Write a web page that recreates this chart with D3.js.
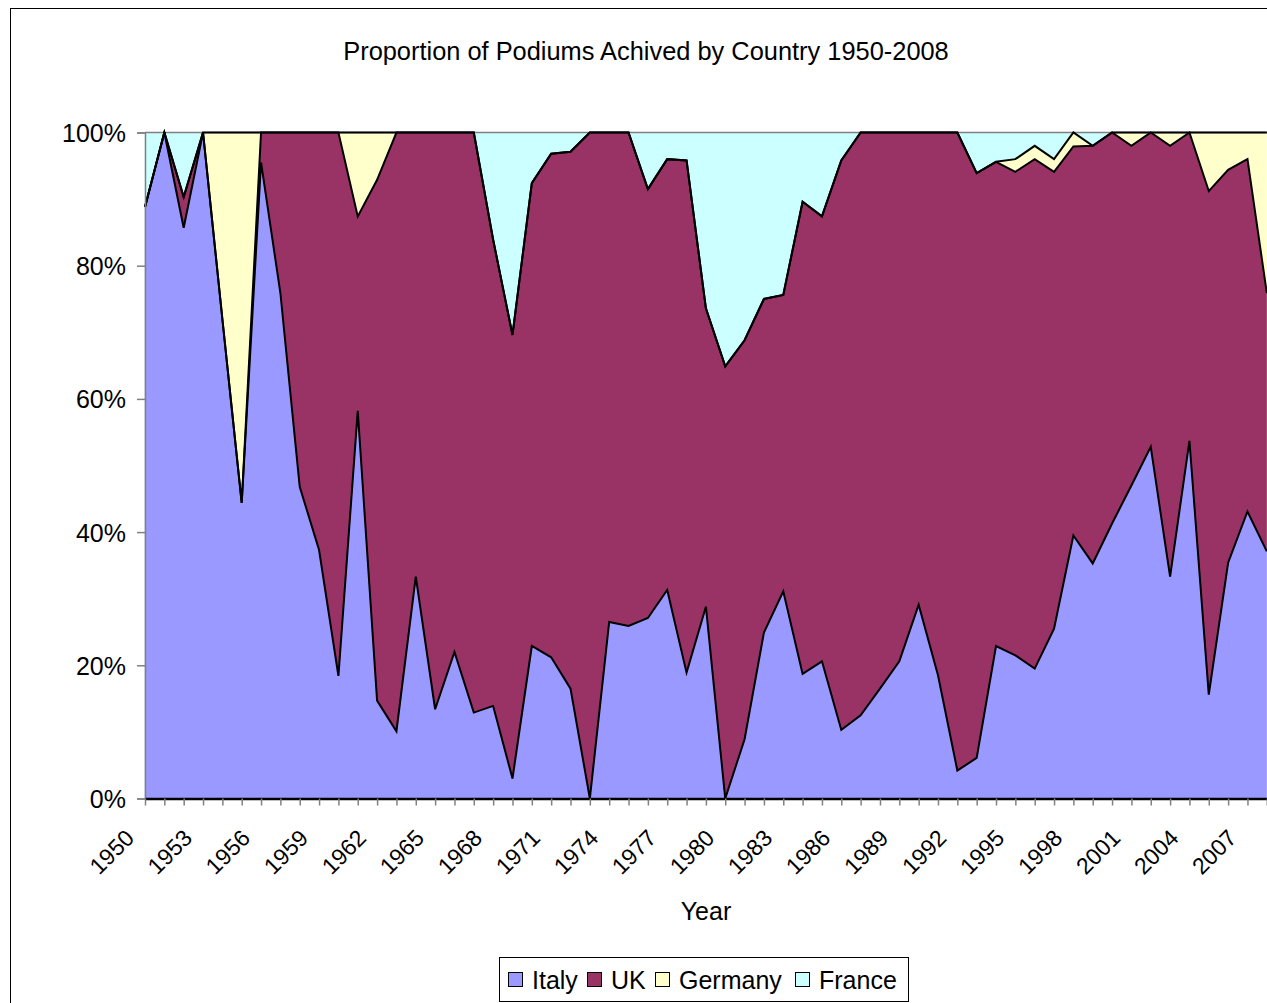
<!DOCTYPE html>
<html><head><meta charset="utf-8">
<script src="https://cdn.jsdelivr.net/npm/d3@7"></script>
<style>body{margin:0;background:#fff}svg{display:block}text{font-family:"Liberation Sans",Arial,sans-serif}</style>
</head><body>
<svg id="c" width="1267" height="1003"></svg>
<script>
const years = d3.range(1950, 2009);
const italy = [88.8,100,85.7,100,72,44.4,95.5,75.9,46.8,37.3,18.4,58.2,14.7,10.1,33.3,13.4,22.0,12.9,13.9,3.0,
  22.9,21.2,16.5,0,26.5,25.9,27.1,31.3,18.9,28.8,0,8.9,24.9,31.1,18.7,20.6,10.3,12.5,16.5,20.6,
  29.1,18.5,4.2,6.1,22.9,21.5,19.5,25.5,39.5,35.3,41.3,47.0,52.8,33.3,53.7,15.6,35.4,43.1,37.1];
const uk = [0,0,4.6,0,0,0,4.5,24.1,53.2,62.7,81.6,29.2,78.2,89.9,66.7,86.6,78.0,87.1,70.0,66.6,
  69.5,75.6,80.6,100,73.5,74.1,64.4,64.7,76.9,44.8,64.9,59.9,50.1,44.5,70.9,66.8,85.5,87.5,83.5,79.4,
  70.9,81.5,95.8,87.8,72.7,72.6,76.5,68.6,58.4,62.7,58.7,51.0,47.2,64.7,46.3,75.6,59.0,52.9,38.8];
const germany = [0,0,0,0,28,55.6,0,0,0,0,0,12.6,7.1,0,0,0,0,0,0,0,
  0,0,0,0,0,0,0,0,0,0,0,0,0,0,0,0,0,0,0,0,
  0,0,0,0,0,1.9,2.0,1.9,2.1,0,0,2.0,0,2.0,0,8.8,5.6,4.0,24.1];
const france = [11.2,0,9.7,0,0,0,0,0,0,0,0,0,0,0,0,0,0,0,16.1,30.4,
  7.6,3.2,2.9,0,0,0,8.5,4.0,4.2,26.4,35.1,31.2,25.0,24.4,10.4,12.6,4.2,0,0,0,
  0,0,0,6.1,4.4,4.0,2.0,4.0,0,2.0,0,0,0,0,0,0,0,0,0];
const seriesNames = ["Italy","UK","Germany","France"];
const seriesColors = ["#9999FF","#993366","#FFFFCC","#CCFFFF"];
const yTicks = [0,0.2,0.4,0.6,0.8,1];
const xLabelYears = d3.range(1950, 2009, 3);

const rows = years.map((y,i)=>({year:y, Italy:italy[i], UK:uk[i], Germany:germany[i], France:france[i]}));
const stack = d3.stack().keys(seriesNames).offset(d3.stackOffsetExpand);
const layers = stack(rows);

const svg = d3.select("#c");
const FONT = 25;
// chart border
svg.append("rect").attr("x",10.5).attr("y",8.5).attr("width",1400).attr("height",1200)
  .attr("fill","#fff").attr("stroke","#000").attr("stroke-width",1);

const x = d3.scaleLinear().domain([1950,2008]).range([145,1266.8]);
const y = d3.scaleLinear().domain([0,1]).range([798.5,132.5]);

const area = d3.area().x(d=>x(d.data.year)).y0(d=>y(d[0])).y1(d=>y(d[1]));
const line = d3.line().x(d=>x(d.data.year)).y(d=>y(d[1]));

svg.append("g").selectAll("path").data(layers).join("path")
  .attr("d",area).attr("fill",(d,i)=>seriesColors[i]).attr("stroke",(d,i)=>seriesColors[i]).attr("stroke-width",0.5);

// top gray plot edge
svg.append("line").attr("x1",x(1950)).attr("x2",1267).attr("y1",y(1)).attr("y2",y(1))
  .attr("stroke","#808080").attr("stroke-width",1.5);

// boundary lines
svg.append("g").selectAll("path").data(layers.slice(0,3)).join("path")
  .attr("d",line).attr("fill","none").attr("stroke","#000").attr("stroke-width",2).attr("stroke-linejoin","miter");

// y axis
const yAxis = d3.axisLeft(y).tickValues(yTicks).tickFormat(d3.format(".0%")).tickSize(8).tickPadding(11);
const gy = svg.append("g").attr("transform",`translate(${x(1950)},0)`).call(yAxis);
gy.select(".domain").attr("stroke","#808080").attr("stroke-width",1.5);
gy.selectAll(".tick line").attr("stroke","#808080").attr("stroke-width",1.5);
gy.selectAll(".tick text").attr("font-size",FONT).attr("fill","#000").attr("font-family","Liberation Sans, Arial").attr("dy","0.36em");

// x axis
const xAxis = d3.axisBottom(x).tickValues(years).tickFormat(d=>xLabelYears.includes(d)?String(d):"").tickSize(7).tickSizeOuter(0);
const gx = svg.append("g").attr("transform",`translate(0,${y(0)})`).call(xAxis);
gx.select(".domain").attr("stroke","#000").attr("stroke-width",2.5);
gx.selectAll(".tick line").attr("stroke","#808080").attr("stroke-width",1.5);
gx.selectAll(".tick text").attr("font-size",23).attr("fill","#000").attr("font-family","Liberation Sans, Arial")
  .attr("text-anchor","end").attr("dy",null).attr("y",null)
  .attr("transform","translate(-10,41) rotate(-45)");

// title
svg.append("text").attr("x",646).attr("y",60).attr("text-anchor","middle").attr("font-size",25.4).text("Proportion of Podiums Achived by Country 1950-2008");
// axis title
svg.append("text").attr("x",706).attr("y",920).attr("text-anchor","middle").attr("font-size",FONT).text("Year");

// legend
const lg = svg.append("g");
lg.append("rect").attr("x",499.5).attr("y",957.5).attr("width",409).attr("height",44).attr("fill","#fff").attr("stroke","#000").attr("stroke-width",1);
const legX = [508,587,655,795];
seriesNames.forEach((n,i)=>{
  lg.append("rect").attr("x",legX[i]+0.5).attr("y",972.5).attr("width",14).attr("height",14)
    .attr("fill",seriesColors[i]).attr("stroke","#000").attr("stroke-width",1);
  lg.append("text").attr("x",legX[i]+24).attr("y",989).attr("font-size",FONT).text(n);
});
</script>
</body></html>
